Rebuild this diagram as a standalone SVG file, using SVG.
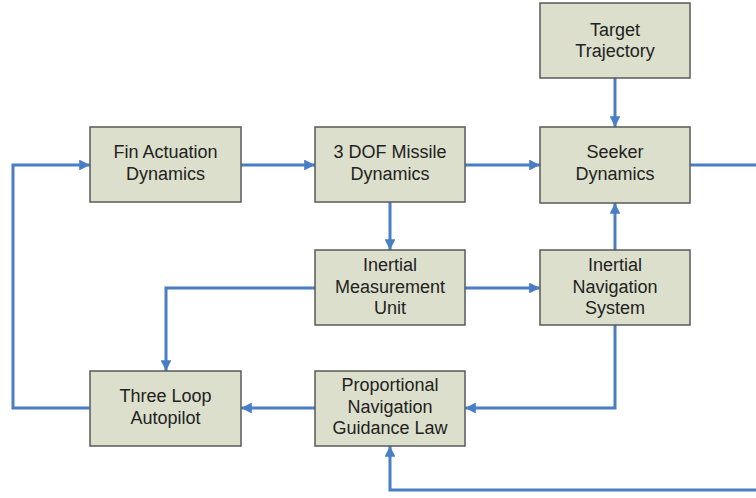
<svg xmlns="http://www.w3.org/2000/svg" width="756" height="498" viewBox="0 0 756 498">
<defs>
<style>
.box{fill:#DCDFCB;stroke:#5a5a5a;stroke-width:1.5}
.lbl{font-family:"Liberation Sans",Arial,sans-serif;font-size:18px;fill:#222;text-anchor:middle}
.c{fill:none;stroke:#4A7EC4;stroke-width:3}
</style>
<marker id="ah" viewBox="0 0 10 10" refX="10" refY="5" markerWidth="3.6" markerHeight="3.6" orient="auto" markerUnits="strokeWidth">
<path d="M0,0 L10,5 L0,10 z" fill="#4A7EC4"/>
</marker>
</defs>
<rect width="756" height="498" fill="#fff"/>
<g id="connectors">
<path class="c" d="M241,165 H315" marker-end="url(#ah)"/>
<path class="c" d="M465,165 H540" marker-end="url(#ah)"/>
<path class="c" d="M615,78 V127" marker-end="url(#ah)"/>
<path class="c" d="M690,165 H756"/>
<path class="c" d="M390,202 V250" marker-end="url(#ah)"/>
<path class="c" d="M465,288 H540" marker-end="url(#ah)"/>
<path class="c" d="M615,250 V203" marker-end="url(#ah)"/>
<path class="c" d="M315,288 H166 V371" marker-end="url(#ah)"/>
<path class="c" d="M615,325 V408 H465" marker-end="url(#ah)"/>
<path class="c" d="M315,408 H241" marker-end="url(#ah)"/>
<path class="c" d="M90,408 H13 V165 H90" marker-end="url(#ah)"/>
<path class="c" d="M756,490 H390 V446" marker-end="url(#ah)"/>
</g>
<g id="target">
<rect class="box" x="540" y="3" width="150" height="75"/>
<text class="lbl" x="615" y="36">Target</text>
<text class="lbl" x="615" y="57">Trajectory</text>
</g>
<g id="fin">
<rect class="box" x="90" y="127" width="151" height="75"/>
<text class="lbl" x="165.5" y="158">Fin Actuation</text>
<text class="lbl" x="165.5" y="180">Dynamics</text>
</g>
<g id="missile">
<rect class="box" x="315" y="127" width="150" height="75"/>
<text class="lbl" x="390" y="158">3 DOF Missile</text>
<text class="lbl" x="390" y="180">Dynamics</text>
</g>
<g id="seeker">
<rect class="box" x="540" y="127" width="150" height="76"/>
<text class="lbl" x="615" y="158">Seeker</text>
<text class="lbl" x="615" y="180">Dynamics</text>
</g>
<g id="imu">
<rect class="box" x="315" y="250" width="150" height="75"/>
<text class="lbl" x="390" y="271">Inertial</text>
<text class="lbl" x="390" y="293">Measurement</text>
<text class="lbl" x="390" y="314">Unit</text>
</g>
<g id="ins">
<rect class="box" x="540" y="250" width="150" height="75"/>
<text class="lbl" x="615" y="271">Inertial</text>
<text class="lbl" x="615" y="293">Navigation</text>
<text class="lbl" x="615" y="314">System</text>
</g>
<g id="autopilot">
<rect class="box" x="90" y="371" width="151" height="75"/>
<text class="lbl" x="165.5" y="402">Three Loop</text>
<text class="lbl" x="165.5" y="424">Autopilot</text>
</g>
<g id="pn">
<rect class="box" x="315" y="371" width="150" height="75"/>
<text class="lbl" x="390" y="391">Proportional</text>
<text class="lbl" x="390" y="413">Navigation</text>
<text class="lbl" x="390" y="434">Guidance Law</text>
</g>
</svg>
